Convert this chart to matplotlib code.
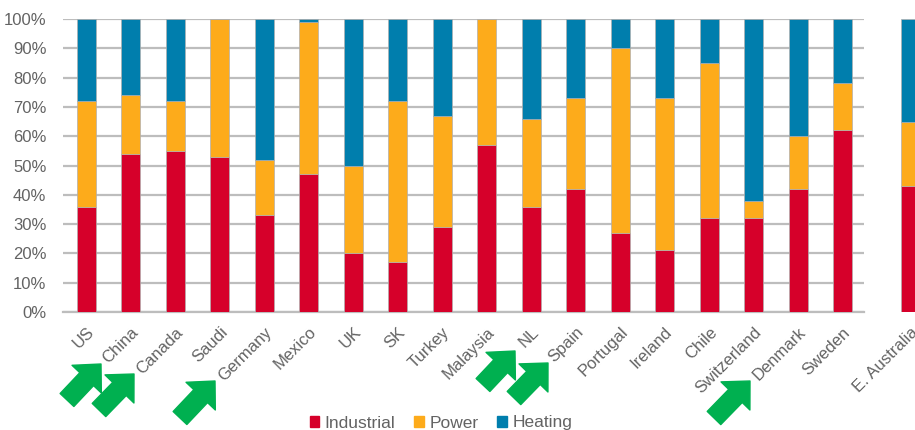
import matplotlib
matplotlib.use("Agg")
import matplotlib.pyplot as plt
from matplotlib.patches import Patch
from matplotlib.ticker import PercentFormatter

plt.rcParams['font.family'] = ['Liberation Sans', 'DejaVu Sans']

countries = ["US", "China", "Canada", "Saudi", "Germany", "Mexico", "UK", "SK",
             "Turkey", "Malaysia", "NL", "Spain", "Portugal", "Ireland", "Chile",
             "Switzerland", "Denmark", "Sweden"]
industrial = [36, 54, 55, 53, 33, 47, 20, 17, 29, 57, 36, 42, 27, 21, 32, 32, 42, 62]
power = [36, 20, 17, 47, 19, 52, 30, 55, 38, 43, 30, 31, 63, 52, 53, 6, 18, 16]
heating = [100 - i - p for i, p in zip(industrial, power)]

ea_label = "E. Australia"
ea_industrial = 43
ea_power = 22
ea_heating = 100 - ea_industrial - ea_power

# countries flagged with green arrows
flagged = ["China", "Canada", "Germany", "NL", "Spain", "Denmark"]

RED = "#D6002A"
ORANGE = "#FDAB1B"
BLUE = "#007EAD"
GRID = "#BDBDBD"
TXT = "#636363"

W, H = 915, 430
fig = plt.figure(figsize=(W / 100, H / 100), dpi=100)

ax = fig.add_axes([63 / W, (H - 312) / H, (864 - 63) / W, (312 - 19) / H])
x = range(len(countries))
bw = 0.43
kw = dict(width=bw, edgecolor="#b0b0b0", linewidth=0.5, zorder=3)
ax.bar(x, industrial, color=RED, **kw)
ax.bar(x, power, bottom=industrial, color=ORANGE, **kw)
ax.bar(x, heating, bottom=[i + p for i, p in zip(industrial, power)], color=BLUE, **kw)

ax.set_xlim(-0.52, len(countries) - 0.52)
ax.set_ylim(0, 100)
ax.set_yticks(range(0, 101, 10))
ax.yaxis.set_major_formatter(PercentFormatter(decimals=0))
ax.grid(axis="y", color=GRID, linewidth=1.6, zorder=0)
for s in ["top", "right", "left"]:
    ax.spines[s].set_visible(False)
ax.spines["bottom"].set_color(GRID)
ax.spines["bottom"].set_linewidth(1.6)
ax.tick_params(axis="both", length=0, colors=TXT, labelsize=12)
ax.tick_params(axis="y", pad=12)
ax.tick_params(axis="x", pad=9)
ax.set_xticks(list(x))
ax.set_xticklabels(countries, rotation=45, ha="right", va="top", rotation_mode="anchor")

# separate bar for E. Australia, cut off at the right edge like the source
ax2 = fig.add_axes([880 / W, (H - 312) / H, 60 / W, (312 - 19) / H])
ax2.bar([0], [ea_industrial], color=RED, **kw)
ax2.bar([0], [ea_power], bottom=[ea_industrial], color=ORANGE, **kw)
ax2.bar([0], [ea_heating], bottom=[ea_industrial + ea_power], color=BLUE, **kw)
ax2.set_xlim(-(910.5 - 880) / 44.5, (940 - 910.5) / 44.5)
ax2.set_ylim(0, 100)
for s in ax2.spines.values():
    s.set_visible(False)
ax2.set_yticks([])
ax2.set_xticks([0])
ax2.set_xticklabels([ea_label], rotation=45, ha="right", va="top", rotation_mode="anchor")
ax2.tick_params(axis="x", length=0, colors=TXT, labelsize=12, pad=9)

# green arrows pointing at flagged countries (image pixel coords: tail, tip)
arrows = {
    "China": ((67, 400), (101, 364)),
    "Canada": ((99, 410), (134, 374)),
    "Germany": ((180, 418), (215, 381)),
    "NL": ((483, 385), (515, 351)),
    "Spain": ((514, 398), (548, 363)),
    "Denmark": ((714, 418), (750, 381)),
}
for name in flagged:
    (tx, ty), (hx, hy) = arrows[name]
    ax.annotate("", xy=(hx, H - hy), xytext=(tx, H - ty),
                xycoords="figure pixels", textcoords="figure pixels",
                arrowprops=dict(arrowstyle="simple,head_width=1.45,head_length=0.75,tail_width=0.68",
                                color="#00B050", mutation_scale=20, shrinkA=0, shrinkB=0),
                annotation_clip=False)

handles = [Patch(color=RED, label="Industrial"), Patch(color=ORANGE, label="Power"),
           Patch(color=BLUE, label="Heating")]
fig.legend(handles=handles, loc="center", bbox_to_anchor=(441 / W, 7 / H), ncol=3,
           frameon=False, fontsize=12.5, handlelength=0.55, handleheight=0.55,
           handletextpad=0.3, columnspacing=1.1, labelcolor=TXT)

fig.savefig("out.png", dpi=100)
